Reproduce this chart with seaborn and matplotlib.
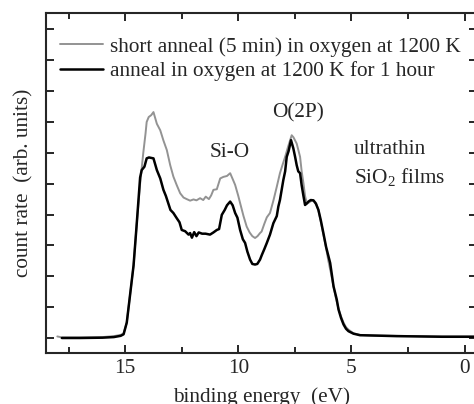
import numpy as np
import pandas as pd
import matplotlib
matplotlib.use("Agg")
import matplotlib.pyplot as plt
import seaborn as sns
from matplotlib.ticker import MultipleLocator
from matplotlib.lines import Line2D

# Valence-band photoemission spectra of ultrathin SiO2 films
energy_short = [18.0, 17.8, 17.0, 16.0, 15.5, 15.2, 15.07, 14.93, 14.8, 14.63, 14.5, 14.34,
                14.27, 14.2, 14.1, 14.05, 13.96, 13.85, 13.75, 13.6, 13.45, 13.31, 13.16,
                13.01, 12.87, 12.72, 12.57, 12.42, 12.28, 12.13, 11.98, 11.85, 11.69, 11.55,
                11.44, 11.3, 11.2, 11.1, 10.95, 10.8, 10.66, 10.5, 10.36, 10.22, 10.14, 10.0,
                9.92, 9.77, 9.63, 9.5, 9.38, 9.26, 9.15, 9.04, 8.97, 8.85, 8.74, 8.6, 8.45,
                8.3, 8.16, 8.05, 7.93, 7.82, 7.71, 7.64, 7.56, 7.42, 7.35, 7.27, 7.2, 7.12,
                7.05, 6.97, 6.9, 6.8, 6.68, 6.57, 6.46, 6.35, 6.24, 6.12, 6.02, 5.9, 5.79,
                5.68, 5.57, 5.46, 5.35, 5.24, 5.13, 5.0, 4.91, 4.62, 4.03, 3.0, 2.0, 1.0,
                0.0, -0.5]
count_short = [0.05, 0.02, 0.02, 0.03, 0.06, 0.1, 0.15, 0.5, 1.3, 2.35, 3.6, 5.0,
               5.5, 6.0, 6.63, 7.0, 7.16, 7.22, 7.32, 6.94, 6.73, 6.4, 6.09,
               5.6, 5.23, 4.95, 4.69, 4.55, 4.5, 4.45, 4.49, 4.46, 4.53, 4.47,
               4.58, 4.5, 4.62, 4.8, 4.82, 5.17, 5.22, 5.25, 5.34, 5.1, 4.96, 4.6,
               4.37, 3.95, 3.61, 3.42, 3.3, 3.24, 3.3, 3.4, 3.45, 3.7, 3.91, 4.05, 4.45,
               4.9, 5.34, 5.6, 5.87, 6.15, 6.41, 6.57, 6.5, 6.3, 6.1, 5.87, 5.4, 5.01,
               4.6, 4.36, 4.38, 4.43, 4.46, 4.38, 4.15, 3.75, 3.35, 2.92, 2.5, 2.08, 1.66,
               1.27, 0.95, 0.7, 0.5, 0.35, 0.27, 0.2, 0.15, 0.1, 0.08, 0.07, 0.06, 0.05,
               0.05, 0.05]

energy_long = [17.8, 17.0, 16.0, 15.5, 15.2, 15.07, 14.93, 14.8, 14.63, 14.5, 14.34, 14.27,
               14.15, 14.05, 13.95, 13.75, 13.6, 13.45, 13.31, 13.2, 13.0, 12.87, 12.72,
               12.6, 12.5, 12.35, 12.2, 12.13, 12.05, 11.95, 11.85, 11.75, 11.6, 11.45,
               11.25, 11.1, 10.95, 10.85, 10.73, 10.6, 10.5, 10.36, 10.25, 10.14, 10.04,
               9.92, 9.8, 9.7, 9.6, 9.48, 9.38, 9.26, 9.16, 9.04, 8.96, 8.85, 8.74, 8.6,
               8.45, 8.3, 8.23, 8.16, 8.01, 7.93, 7.86, 7.78, 7.67, 7.57, 7.49, 7.42, 7.35,
               7.27, 7.2, 7.12, 7.05, 6.97, 6.9, 6.8, 6.68, 6.57, 6.46, 6.35, 6.24, 6.12,
               5.94, 5.79, 5.65, 5.57, 5.46, 5.35, 5.24, 5.13, 4.91, 4.62, 4.03, 3.0, 2.0,
               1.0, 0.0, -0.5]
count_long = [0.0, 0.0, 0.01, 0.03, 0.07, 0.12, 0.5, 1.3, 2.35, 3.6, 5.2, 5.44,
              5.55, 5.82, 5.85, 5.82, 5.44, 5.17, 4.8, 4.6, 4.15, 4.05, 3.88,
              3.75, 3.5, 3.46, 3.35, 3.4, 3.25, 3.43, 3.3, 3.42, 3.38, 3.38,
              3.35, 3.42, 3.5, 3.53, 3.99, 4.15, 4.3, 4.42, 4.3, 4.05, 3.9,
              3.5, 3.2, 3.08, 2.8, 2.54, 2.4, 2.38, 2.4, 2.54, 2.69, 2.88, 3.08, 3.35,
              3.72, 3.95, 4.26, 4.47, 5.12, 5.4, 5.87, 6.05, 6.41, 6.15, 5.87, 5.6, 5.4,
              5.34, 4.95, 4.6, 4.31, 4.36, 4.42, 4.47, 4.46, 4.35, 4.15, 3.8, 3.4, 2.95,
              2.43, 1.67, 1.25, 0.92, 0.65, 0.44, 0.3, 0.22, 0.14, 0.09, 0.08, 0.06, 0.05,
              0.04, 0.04, 0.04]

label_short = "short anneal (5 min) in oxygen at 1200 K"
label_long = "anneal in oxygen at 1200 K for 1 hour"

GRAY = "#939393"
FS = 15.3

sns.set_style("ticks")
plt.rcParams["font.family"] = ["Liberation Serif", "DejaVu Serif"]
plt.rcParams["mathtext.fontset"] = "custom"
plt.rcParams["mathtext.rm"] = "Liberation Serif"
plt.rcParams["mathtext.it"] = "Liberation Serif:italic"

df = pd.concat([
    pd.DataFrame({"energy": energy_short, "count": count_short, "sample": label_short}),
    pd.DataFrame({"energy": energy_long, "count": count_long, "sample": label_long}),
], ignore_index=True)

fig = plt.figure(figsize=(4.74, 4.04), dpi=100)
ax = fig.add_axes([46 / 474, 1 - 352.5 / 404, 431 / 474, (352.5 - 12.7) / 404])

sns.lineplot(data=df, x="energy", y="count", hue="sample", sort=False,
             hue_order=[label_short, label_long],
             palette={label_short: GRAY, label_long: "#000000"},
             ax=ax, legend=False, estimator=None)
lines = ax.get_lines()
lines[0].set_linewidth(1.4)
lines[1].set_linewidth(1.8)
lines[1].set_zorder(3)

ax.set_xlim(18.5, -0.55)
ax.set_ylim(-0.47, 10.54)

ax.xaxis.set_major_locator(MultipleLocator(5))
ax.xaxis.set_minor_locator(MultipleLocator(2.5))
ax.yaxis.set_major_locator(MultipleLocator(1))
ax.tick_params(axis="both", which="both", direction="in", top=True, right=True,
               width=1.4, labelsize=FS)
ax.tick_params(axis="x", which="major", length=6, pad=5)
ax.tick_params(axis="x", which="minor", length=4)
ax.tick_params(axis="y", which="both", length=6, labelleft=False)
for s in ax.spines.values():
    s.set_linewidth(1.5)
    s.set_visible(True)

ax.set_xlabel("binding energy  (eV)", fontsize=FS, labelpad=6)
ax.set_ylabel("count rate  (arb. units)", fontsize=FS, labelpad=9)

ax.text(10.36, 6.0, "Si-O", fontsize=FS, ha="center", va="center")
ax.text(7.38, 7.29, "O(2P)", fontsize=FS, ha="center", va="center")
ax.text(4.89, 6.1, "ultrathin", fontsize=FS, ha="left", va="center")
ax.text(4.89, 5.23, "SiO$_2$ films", fontsize=FS, ha="left", va="center")

handles = [Line2D([], [], color=GRAY, lw=1.4), Line2D([], [], color="#000000", lw=1.8)]
fig.legend(handles, [label_short, label_long], loc="upper left",
           bbox_to_anchor=(60 / 474, 1 - 37 / 404), frameon=False, fontsize=FS,
           handlelength=2.0, handletextpad=0.33, labelspacing=0.2,
           borderaxespad=0, borderpad=0)

fig.savefig("out.png", dpi=100)
